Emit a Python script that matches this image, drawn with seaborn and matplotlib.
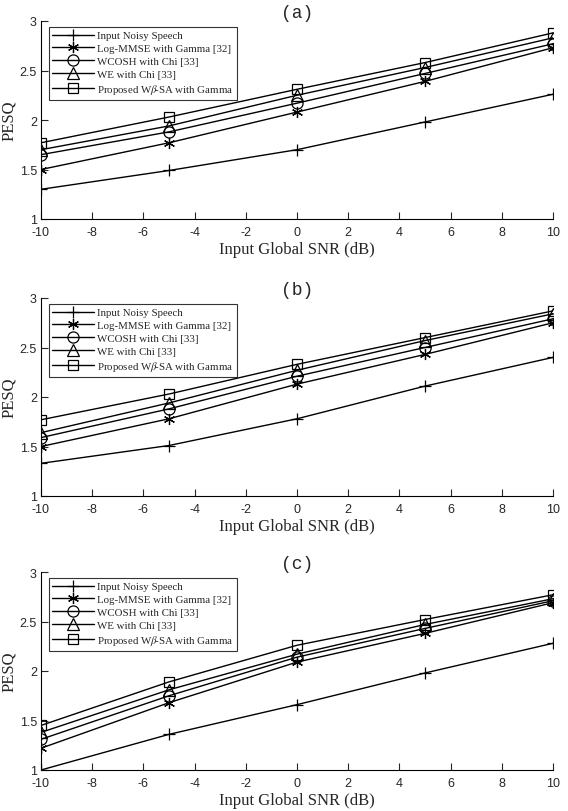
import numpy as np
import pandas as pd
import matplotlib
matplotlib.use("Agg")
import matplotlib.pyplot as plt
import seaborn as sns

# SNR levels (dB)
snr = [-10, -5, 0, 5, 10]

methods = ["Input Noisy Speech", "Log-MMSE with Gamma [32]", "WCOSH with Chi [33]",
           "WE with Chi [33]", r"Proposed W$\beta\!$-SA with Gamma"]
marker_list = ["+", (6, 2, 0), "o", "^", "s"]

# PESQ values, one list per method
pesq_a_noisy = [1.30, 1.49, 1.70, 1.98, 2.26]
pesq_a_logmmse = [1.50, 1.77, 2.08, 2.39, 2.73]
pesq_a_wcosh = [1.65, 1.88, 2.17, 2.47, 2.77]
pesq_a_we = [1.70, 1.94, 2.25, 2.53, 2.83]
pesq_a_prop = [1.77, 2.03, 2.31, 2.58, 2.88]

pesq_b_noisy = [1.33, 1.51, 1.78, 2.11, 2.40]
pesq_b_logmmse = [1.50, 1.78, 2.13, 2.43, 2.75]
pesq_b_wcosh = [1.59, 1.88, 2.21, 2.50, 2.79]
pesq_b_we = [1.64, 1.94, 2.27, 2.57, 2.84]
pesq_b_prop = [1.77, 2.03, 2.33, 2.60, 2.87]

pesq_c_noisy = [1.00, 1.36, 1.66, 1.98, 2.28]
pesq_c_logmmse = [1.22, 1.68, 2.09, 2.38, 2.69]
pesq_c_wcosh = [1.31, 1.75, 2.14, 2.43, 2.71]
pesq_c_we = [1.38, 1.81, 2.17, 2.47, 2.73]
pesq_c_prop = [1.45, 1.89, 2.26, 2.52, 2.77]

panels = [
    ("(a)", [pesq_a_noisy, pesq_a_logmmse, pesq_a_wcosh, pesq_a_we, pesq_a_prop]),
    ("(b)", [pesq_b_noisy, pesq_b_logmmse, pesq_b_wcosh, pesq_b_we, pesq_b_prop]),
    ("(c)", [pesq_c_noisy, pesq_c_logmmse, pesq_c_wcosh, pesq_c_we, pesq_c_prop]),
]

sns.set_style("ticks")
plt.rcParams["font.family"] = ["Liberation Sans", "DejaVu Sans"]
plt.rcParams["mathtext.fontset"] = "stix"
plt.rcParams["axes.unicode_minus"] = False

fig = plt.figure(figsize=(5.68, 8.12), dpi=100)
left, width = 41 / 568, 512 / 568
tops = [22, 299, 573]
height = 198 / 812

for (title, series), top in zip(panels, tops):
    ax = fig.add_axes([left, 1 - (top + 198) / 812, width, height])
    for name, vals, mk in zip(methods, series, marker_list):
        df = pd.DataFrame({"snr": snr, "pesq": vals})
        sns.lineplot(data=df, x="snr", y="pesq", ax=ax, color="black", lw=1.0,
                     marker=mk, markersize=8 if mk != "s" else 7,
                     mfc="none", mec="black", mew=0.9, label=name)
    ax.set_xlim(-10, 10)
    ax.set_ylim(1, 3)
    ax.set_xticks(np.arange(-10, 11, 2))
    ax.set_yticks([1, 1.5, 2, 2.5, 3])
    ax.set_yticklabels(["1", "1.5", "2", "2.5", "3"])
    ax.tick_params(direction="in", length=5, width=0.8, labelsize=9)
    ax.tick_params(axis="x", pad=5)
    ax.tick_params(axis="y", pad=3)
    for sp in ["top", "right"]:
        ax.spines[sp].set_visible(False)
    for sp in ["left", "bottom"]:
        ax.spines[sp].set_linewidth(0.8)
        ax.spines[sp].set_color("black")
    ax.set_xlabel("Input Global SNR (dB)", family="Liberation Serif", fontsize=12, labelpad=2)
    ax.set_ylabel("PESQ", family="Liberation Serif", fontsize=12, labelpad=2)
    ax.set_title(title, family="Liberation Mono", fontsize=13, pad=2)
    leg = ax.legend(loc="upper left", bbox_to_anchor=(0.015, 0.97), frameon=True, fancybox=False,
                    edgecolor="black", prop={"family": "Liberation Serif", "size": 7.8},
                    handlelength=3.8, handletextpad=0.3, labelspacing=0.3,
                    borderpad=0.35, borderaxespad=0)
    leg.get_frame().set_linewidth(0.8)

plt.savefig("out.png", dpi=100)
